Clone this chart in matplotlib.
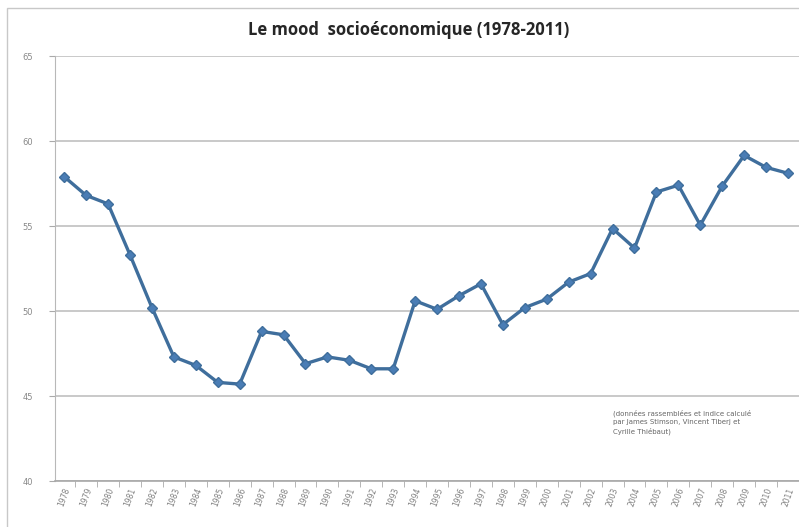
import numpy as np
import matplotlib
matplotlib.use("Agg")
import matplotlib.pyplot as plt
from matplotlib.patches import Rectangle

# donnees
annees = [str(a) for a in range(1978, 2012)]
mood = [57.9, 56.8, 56.3, 53.3, 50.2, 47.3, 46.8, 45.8, 45.7, 48.8,
        48.6, 46.9, 47.3, 47.1, 46.6, 46.6, 50.6, 50.1, 50.9, 51.6,
        49.2, 50.2, 50.7, 51.7, 52.2, 54.85, 53.7, 57.0, 57.4, 55.05,
        57.35, 59.15, 58.45, 58.1]
y_ticks = [40, 45, 50, 55, 60, 65]

titre = "Le mood  socioéconomique (1978-2011)"
note = ("(données rassemblées et indice calculé\n"
        "par James Stimson, Vincent Tiberj et\n"
        "Cyrille Thiébaut)")

fig = plt.figure(figsize=(7.99, 5.27), dpi=100)
fig.patch.set_facecolor("white")

# cadre exterieur (coupe a droite et en bas)
fig.patches.append(Rectangle((7/799, -0.5), 3.0, 1.5 - 8/527,
                             transform=fig.transFigure, fill=False,
                             edgecolor="#c8c8c8", linewidth=1.0))

ax = fig.add_axes([55/799, 1 - 481/527, 1 - 55/799, (481 - 56)/527])
x = np.arange(len(annees))
ax.plot(x, mood, color="#3f6e9c", linewidth=2.4, marker="D",
        markersize=5, markerfacecolor="#4a7db5", markeredgecolor="#3f6e9c",
        zorder=3, clip_on=False)

ax.set_ylim(40, 65)
ax.set_yticks(y_ticks)
ax.set_xlim(-0.42, 33.1)
ax.set_xticks(x)
ax.set_xticklabels(annees, rotation=70, fontsize=5.5, color="#808080")
ax.set_xticks(x + 0.5, minor=True)
ax.tick_params(axis="x", which="major", length=0, pad=4)
ax.tick_params(axis="x", which="minor", length=4, color="#aaaaaa", direction="out")
ax.tick_params(axis="y", length=4, color="#aaaaaa", labelsize=6, labelcolor="#888888", pad=12)

ax.grid(axis="y", color="#c0c0c0", linewidth=1.2)
ax.set_axisbelow(True)
for s in ["top", "right"]:
    ax.spines[s].set_visible(False)
ax.spines["left"].set_color("#b8b8b8")
ax.spines["bottom"].set_color("#a8a8a8")
ax.spines["bottom"].set_linewidth(1.2)

fig.text(409/799, 1 - 30/527, titre, ha="center", va="center",
         fontsize=12, fontweight="bold", color="#262626", family="Open Sans")
fig.text(613/799, 1 - 422/527, note, ha="left", va="center",
         fontsize=5, color="#666666", linespacing=1.4)

fig.savefig("out.png", dpi=100)
